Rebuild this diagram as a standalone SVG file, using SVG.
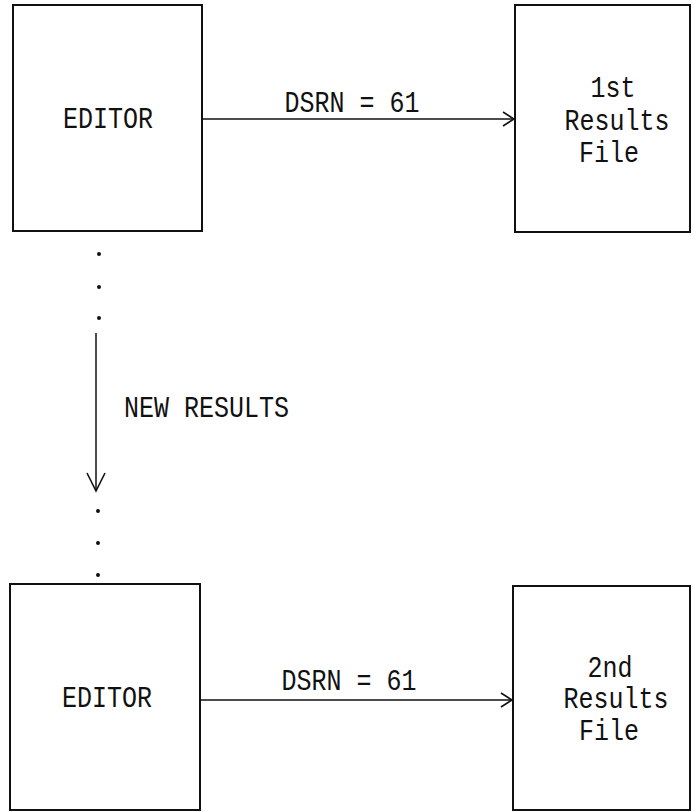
<svg xmlns="http://www.w3.org/2000/svg" width="694" height="812" viewBox="0 0 694 812">
<style>
.box{fill:none;stroke:#111;stroke-width:2}
.con{fill:none;stroke:#111;stroke-width:1.5}
.head{fill:none;stroke:#111;stroke-width:1.6;stroke-linejoin:miter}
.t{font-family:"Liberation Mono","DejaVu Sans Mono",monospace;font-size:25px;fill:#111;text-anchor:middle}
.dot{fill:#111}
</style>
<rect width="694" height="812" fill="#fff"/>
<g id="editor1">
<rect class="box" x="13" y="5" width="189" height="226"/>
<text class="t" transform="translate(108,128) scale(1,1.18)">EDITOR</text>
</g>
<g id="results1">
<rect class="box" x="515" y="5" width="175" height="227"/>
<text class="t" transform="translate(613,97) scale(1,1.18)">1st</text>
<text class="t" transform="translate(617,130) scale(1,1.18)">Results</text>
<text class="t" transform="translate(609,162) scale(1,1.18)">File</text>
</g>
<g id="editor2">
<rect class="box" x="10" y="584" width="190" height="226"/>
<text class="t" transform="translate(107,707) scale(1,1.18)">EDITOR</text>
</g>
<g id="results2">
<rect class="box" x="513" y="586" width="177" height="224"/>
<text class="t" transform="translate(610,677) scale(1,1.18)">2nd</text>
<text class="t" transform="translate(616,708) scale(1,1.18)">Results</text>
<text class="t" transform="translate(609,740) scale(1,1.18)">File</text>
</g>
<g id="connectors">
<line class="con" x1="202" y1="119" x2="514" y2="119"/>
<polyline class="head" points="503,112 514,119 503,126"/>
<text class="t" transform="translate(352,112) scale(1,1.18)">DSRN = 61</text>
<line class="con" x1="200" y1="700" x2="512" y2="700"/>
<polyline class="head" points="501,693 512,700 501,707"/>
<text class="t" transform="translate(349,690) scale(1,1.18)">DSRN = 61</text>
<circle class="dot" cx="99" cy="254" r="2"/>
<circle class="dot" cx="99" cy="287" r="2"/>
<circle class="dot" cx="99" cy="318" r="2"/>
<line class="con" x1="96" y1="333" x2="96" y2="491"/>
<polyline class="head" points="87,473 96,491 105,473"/>
<text class="t" style="text-anchor:start" transform="translate(124,417) scale(1,1.18)">NEW RESULTS</text>
<circle class="dot" cx="98" cy="511" r="2"/>
<circle class="dot" cx="98" cy="543" r="2"/>
<circle class="dot" cx="98" cy="575" r="2"/>
</g>
</svg>
